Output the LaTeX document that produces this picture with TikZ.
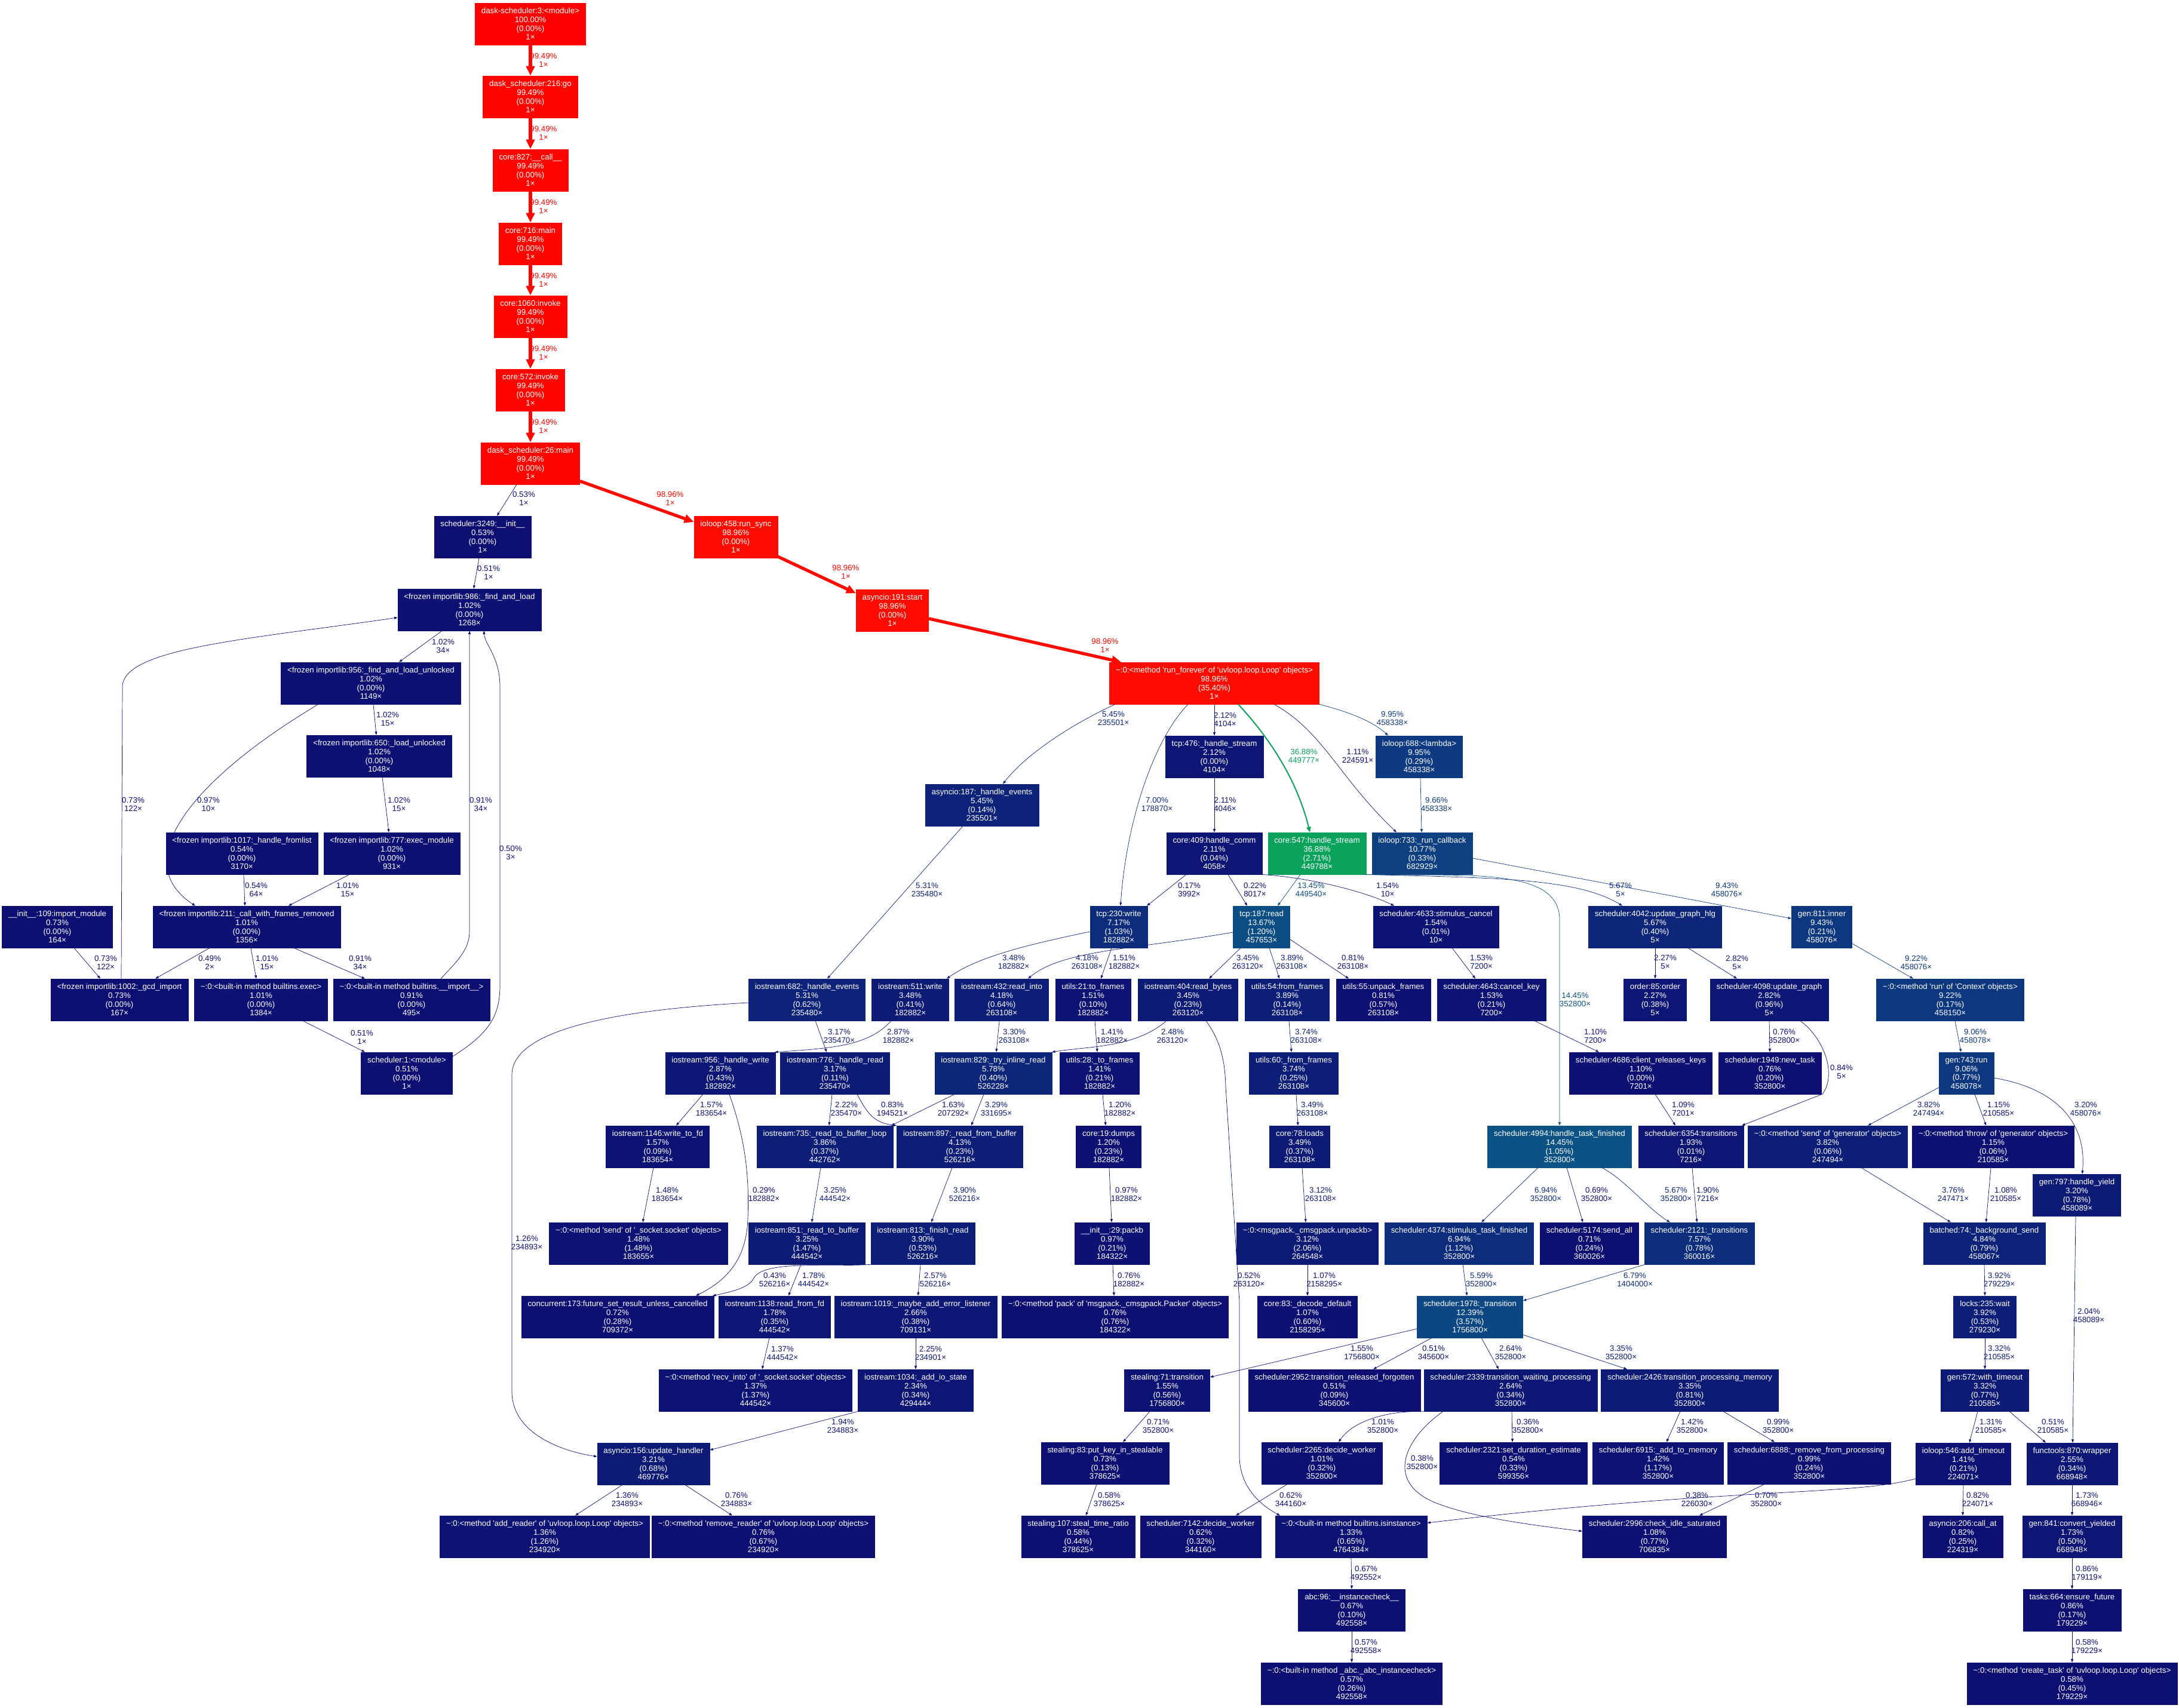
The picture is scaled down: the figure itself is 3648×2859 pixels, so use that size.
\documentclass[tikz,border=0pt]{standalone}
\usepackage{fontspec}
\setmainfont{Liberation Sans}[Ligatures=TeXOff]
\usetikzlibrary{arrows.meta}
\definecolor{cR0}{RGB}{255,0,0}
\definecolor{cR1}{RGB}{255,5,0}
\definecolor{cR2}{RGB}{254,11,0}
\definecolor{cG}{RGB}{11,163,91}
\definecolor{cN0}{RGB}{13,15,115}
\definecolor{cN1}{RGB}{13,17,116}
\definecolor{cN15}{RGB}{13,19,116}
\definecolor{cN2}{RGB}{13,21,117}
\definecolor{cN25}{RGB}{13,24,118}
\definecolor{cN3}{RGB}{13,27,119}
\definecolor{cN4}{RGB}{13,30,120}
\definecolor{cN5}{RGB}{13,35,122}
\definecolor{cN6}{RGB}{13,38,122}
\definecolor{cN7}{RGB}{13,44,124}
\definecolor{cN75}{RGB}{13,46,125}
\definecolor{cN9}{RGB}{13,55,127}
\definecolor{cN10}{RGB}{13,58,128}
\definecolor{cN11}{RGB}{13,63,129}
\definecolor{cN12}{RGB}{12,71,131}
\definecolor{cN13}{RGB}{12,77,132}
\definecolor{cN14}{RGB}{12,82,133}
\newcommand\gfont{\fontsize{13.3}{14.6}\selectfont}
\newcommand\gbox[8]{\node[gb=#4] (#1) at (#2,#3) {#5\\#6\%\\(#7\%)\\#8×};}
\newcommand\glab[6]{\node[gl=#4] (#1) at (#2,#3) {#5\%\\#6×};}
\tikzset{
  gb/.style={rectangle, fill=#1, draw=#1, line width=0.6pt, text=white, align=center,
    minimum height=70pt, inner xsep=10.5pt, inner ysep=2pt, font=\gfont},
  gl/.style={text=#1, align=center, inner sep=0pt, font=\gfont},
  ge/.style={draw=#1, line width=0.7pt, -{Triangle[length=5.5pt,width=4pt]}},
  gg/.style={draw=#1, line width=2pt, -{Triangle[length=9pt,width=7.5pt]}},
  gr/.style={draw=#1, line width=5.3pt, -{Triangle[length=16pt,width=14pt]}},
}
\begin{document}
\begin{tikzpicture}[x=1pt,y=-1pt]
\fill[white] (0,0) rectangle (3648,2859);
\useasboundingbox (0,0) rectangle (3648,2859);
% ---------- nodes: top chain ----------
\gbox{n1}{888}{40}{cR0}{dask-scheduler:3:<module>}{100.00}{0.00}{1}
\gbox{n2}{888}{162}{cR1}{dask\_scheduler:216:go}{99.49}{0.00}{1}
\gbox{n3}{888}{285}{cR1}{core:827:\_\_call\_\_}{99.49}{0.00}{1}
\gbox{n4}{888}{408}{cR1}{core:716:main}{99.49}{0.00}{1}
\gbox{n5}{888}{530}{cR1}{core:1060:invoke}{99.49}{0.00}{1}
\gbox{n6}{888}{653}{cR1}{core:572:invoke}{99.49}{0.00}{1}
\gbox{n7}{888}{776}{cR1}{dask\_scheduler:26:main}{99.49}{0.00}{1}
\gbox{n8}{808}{899}{cN0}{scheduler:3249:\_\_init\_\_}{0.53}{0.00}{1}
\gbox{n9}{1232}{899}{cR2}{ioloop:458:run\_sync}{98.96}{0.00}{1}
\gbox{n10}{1494}{1022}{cR2}{asyncio:191:start}{98.96}{0.00}{1}
\gbox{n11}{2033}{1144}{cR2}{\textasciitilde:0:<method 'run\_forever' of 'uvloop.loop.Loop' objects>}{98.96}{35.40}{1}
% ---------- left cluster ----------
\gbox{fal}{786}{1021}{cN1}{<frozen importlib:986:\_find\_and\_load}{1.02}{0.00}{1268}
\gbox{fu}{621}{1144}{cN1}{<frozen importlib:956:\_find\_and\_load\_unlocked}{1.02}{0.00}{1149}
\gbox{lu}{635}{1266}{cN1}{<frozen importlib:650:\_load\_unlocked}{1.02}{0.00}{1048}
\gbox{hf}{405}{1429}{cN0}{<frozen importlib:1017:\_handle\_fromlist}{0.54}{0.00}{3170}
\gbox{em}{656}{1429}{cN1}{<frozen importlib:777:exec\_module}{1.02}{0.00}{931}
\gbox{cw}{413}{1552}{cN1}{<frozen importlib:211:\_call\_with\_frames\_removed}{1.01}{0.00}{1356}
\gbox{im}{96}{1552}{cN0}{\_\_init\_\_:109:import\_module}{0.73}{0.00}{164}
\gbox{gi}{200}{1674}{cN0}{<frozen importlib:1002:\_gcd\_import}{0.73}{0.00}{167}
\gbox{bx}{437}{1674}{cN1}{\textasciitilde:0:<built-in method builtins.exec>}{1.01}{0.00}{1384}
\gbox{bi}{689}{1674}{cN0}{\textasciitilde:0:<built-in method builtins.\_\_import\_\_>}{0.91}{0.00}{495}
\gbox{sm}{681}{1797}{cN0}{scheduler:1:<module>}{0.51}{0.00}{1}
% ---------- main ----------
\gbox{ae}{1644}{1348}{cN5}{asyncio:187:\_handle\_events}{5.45}{0.14}{235501}
\gbox{t476}{2033}{1267}{cN2}{tcp:476:\_handle\_stream}{2.12}{0.00}{4104}
\gbox{il688}{2376}{1267}{cN10}{ioloop:688:<lambda>}{9.95}{0.29}{458338}
\gbox{c409}{2033}{1429}{cN2}{core:409:handle\_comm}{2.11}{0.04}{4058}
\gbox{c547}{2205}{1429}{cG}{core:547:handle\_stream}{36.88}{2.71}{449788}
\gbox{il733}{2381}{1429}{cN11}{ioloop:733:\_run\_callback}{10.77}{0.33}{682929}
\gbox{t230}{1873}{1552}{cN7}{tcp:230:write}{7.17}{1.03}{182882}
\gbox{t187}{2112}{1552}{cN13}{tcp:187:read}{13.67}{1.20}{457653}
\gbox{s4633}{2404}{1552}{cN15}{scheduler:4633:stimulus\_cancel}{1.54}{0.01}{10}
\gbox{s4042}{2771}{1552}{cN6}{scheduler:4042:update\_graph\_hlg}{5.67}{0.40}{5}
\gbox{g811}{3050}{1552}{cN9}{gen:811:inner}{9.43}{0.21}{458076}
\gbox{i682}{1351}{1674}{cN5}{iostream:682:\_handle\_events}{5.31}{0.62}{235480}
\gbox{i511}{1524}{1674}{cN3}{iostream:511:write}{3.48}{0.41}{182882}
\gbox{i432}{1677}{1674}{cN4}{iostream:432:read\_into}{4.18}{0.64}{263108}
\gbox{u21}{1830}{1674}{cN15}{utils:21:to\_frames}{1.51}{0.10}{182882}
\gbox{i404}{1989}{1674}{cN3}{iostream:404:read\_bytes}{3.45}{0.23}{263120}
\gbox{u54}{2155}{1674}{cN4}{utils:54:from\_frames}{3.89}{0.14}{263108}
\gbox{u55}{2316}{1674}{cN0}{utils:55:unpack\_frames}{0.81}{0.57}{263108}
\gbox{s4643}{2497}{1674}{cN15}{scheduler:4643:cancel\_key}{1.53}{0.21}{7200}
\gbox{o85}{2771}{1674}{cN2}{order:85:order}{2.27}{0.38}{5}
\gbox{s4098}{2962}{1674}{cN25}{scheduler:4098:update\_graph}{2.82}{0.96}{5}
\gbox{ctx}{3265}{1674}{cN9}{\textasciitilde:0:<method 'run' of 'Context' objects>}{9.22}{0.17}{458150}
\gbox{i956}{1206}{1797}{cN25}{iostream:956:\_handle\_write}{2.87}{0.43}{182892}
\gbox{i776}{1398}{1797}{cN3}{iostream:776:\_handle\_read}{3.17}{0.11}{235470}
\gbox{i829}{1663}{1797}{cN6}{iostream:829:\_try\_inline\_read}{5.78}{0.40}{526228}
\gbox{u28}{1841}{1797}{cN15}{utils:28:\_to\_frames}{1.41}{0.21}{182882}
\gbox{u60}{2166}{1797}{cN4}{utils:60:\_from\_frames}{3.74}{0.25}{263108}
\gbox{s4686}{2747}{1797}{cN1}{scheduler:4686:client\_releases\_keys}{1.10}{0.00}{7201}
\gbox{s1949}{2963}{1797}{cN0}{scheduler:1949:new\_task}{0.76}{0.20}{352800}
\gbox{g743}{3292}{1797}{cN9}{gen:743:run}{9.06}{0.77}{458078}
\gbox{i1146}{1101}{1920}{cN15}{iostream:1146:write\_to\_fd}{1.57}{0.09}{183654}
\gbox{i735}{1381}{1920}{cN4}{iostream:735:\_read\_to\_buffer\_loop}{3.86}{0.37}{442762}
\gbox{i897}{1607}{1920}{cN4}{iostream:897:\_read\_from\_buffer}{4.13}{0.23}{526216}
\gbox{c19}{1856}{1920}{cN1}{core:19:dumps}{1.20}{0.23}{182882}
\gbox{c78}{2176}{1920}{cN3}{core:78:loads}{3.49}{0.37}{263108}
\gbox{s4994}{2611}{1920}{cN14}{scheduler:4994:handle\_task\_finished}{14.45}{1.05}{352800}
\gbox{s6354}{2831}{1920}{cN2}{scheduler:6354:transitions}{1.93}{0.01}{7216}
\gbox{gsend}{3060}{1920}{cN4}{\textasciitilde:0:<method 'send' of 'generator' objects>}{3.82}{0.06}{247494}
\gbox{gthrow}{3337}{1920}{cN1}{\textasciitilde:0:<method 'throw' of 'generator' objects>}{1.15}{0.06}{210585}
\gbox{g797}{3477}{2001}{cN3}{gen:797:handle\_yield}{3.20}{0.78}{458089}
\gbox{ssend}{1069}{2082}{cN15}{\textasciitilde:0:<method 'send' of '\_socket.socket' objects>}{1.48}{1.48}{183655}
\gbox{i851}{1351}{2082}{cN3}{iostream:851:\_read\_to\_buffer}{3.25}{1.47}{444542}
\gbox{i813}{1545}{2082}{cN4}{iostream:813:\_finish\_read}{3.90}{0.53}{526216}
\gbox{pb}{1862}{2082}{cN1}{\_\_init\_\_:29:packb}{0.97}{0.21}{184322}
\gbox{upk}{2189}{2082}{cN3}{\textasciitilde:0:<msgpack.\_cmsgpack.unpackb>}{3.12}{2.06}{264548}
\gbox{s4374}{2443}{2082}{cN7}{scheduler:4374:stimulus\_task\_finished}{6.94}{1.12}{352800}
\gbox{s5174}{2661}{2082}{cN0}{scheduler:5174:send\_all}{0.71}{0.24}{360026}
\gbox{s2121}{2845}{2082}{cN75}{scheduler:2121:\_transitions}{7.57}{0.78}{360016}
\gbox{bat}{3322}{2082}{cN5}{batched:74:\_background\_send}{4.84}{0.79}{458067}
\gbox{cc173}{1034}{2205}{cN0}{concurrent:173:future\_set\_result\_unless\_cancelled}{0.72}{0.28}{709372}
\gbox{i1138}{1297}{2205}{cN2}{iostream:1138:read\_from\_fd}{1.78}{0.35}{444542}
\gbox{i1019}{1533}{2205}{cN25}{iostream:1019:\_maybe\_add\_error\_listener}{2.66}{0.38}{709131}
\gbox{pk}{1867}{2205}{cN0}{\textasciitilde:0:<method 'pack' of 'msgpack.\_cmsgpack.Packer' objects>}{0.76}{0.76}{184322}
\gbox{c83}{2189}{2205}{cN1}{core:83:\_decode\_default}{1.07}{0.60}{2158295}
\gbox{s1978}{2461}{2205}{cN12}{scheduler:1978:\_transition}{12.39}{3.57}{1756800}
\gbox{lk}{3323}{2205}{cN4}{locks:235:wait}{3.92}{0.53}{279230}
\gbox{rcv}{1265}{2328}{cN15}{\textasciitilde:0:<method 'recv\_into' of '\_socket.socket' objects>}{1.37}{1.37}{444542}
\gbox{i1034}{1533}{2328}{cN2}{iostream:1034:\_add\_io\_state}{2.34}{0.34}{429444}
\gbox{st71}{1954}{2328}{cN15}{stealing:71:transition}{1.55}{0.56}{1756800}
\gbox{s2952}{2234}{2328}{cN0}{scheduler:2952:transition\_released\_forgotten}{0.51}{0.09}{345600}
\gbox{s2339}{2529}{2328}{cN25}{scheduler:2339:transition\_waiting\_processing}{2.64}{0.34}{352800}
\gbox{s2426}{2829}{2328}{cN3}{scheduler:2426:transition\_processing\_memory}{3.35}{0.81}{352800}
\gbox{g572}{3323}{2328}{cN3}{gen:572:with\_timeout}{3.32}{0.77}{210585}
\gbox{a156}{1094}{2451}{cN3}{asyncio:156:update\_handler}{3.21}{0.68}{469776}
\gbox{st83}{1850}{2450}{cN0}{stealing:83:put\_key\_in\_stealable}{0.73}{0.13}{378625}
\gbox{s2265}{2213}{2450}{cN1}{scheduler:2265:decide\_worker}{1.01}{0.32}{352800}
\gbox{s2321}{2534}{2450}{cN0}{scheduler:2321:set\_duration\_estimate}{0.54}{0.33}{599356}
\gbox{s6915}{2776}{2450}{cN15}{scheduler:6915:\_add\_to\_memory}{1.42}{1.17}{352800}
\gbox{s6888}{3029}{2450}{cN1}{scheduler:6888:\_remove\_from\_processing}{0.99}{0.24}{352800}
\gbox{il546}{3287}{2451}{cN15}{ioloop:546:add\_timeout}{1.41}{0.21}{224071}
\gbox{ft870}{3469}{2451}{cN25}{functools:870:wrapper}{2.55}{0.34}{668948}
\gbox{adr}{912}{2573}{cN15}{\textasciitilde:0:<method 'add\_reader' of 'uvloop.loop.Loop' objects>}{1.36}{1.26}{234920}
\gbox{rmr}{1278}{2573}{cN0}{\textasciitilde:0:<method 'remove\_reader' of 'uvloop.loop.Loop' objects>}{0.76}{0.67}{234920}
\gbox{st107}{1805}{2573}{cN0}{stealing:107:steal\_time\_ratio}{0.58}{0.44}{378625}
\gbox{s7142}{2010}{2573}{cN0}{scheduler:7142:decide\_worker}{0.62}{0.32}{344160}
\gbox{isi}{2262}{2573}{cN15}{\textasciitilde:0:<built-in method builtins.isinstance>}{1.33}{0.65}{4764384}
\gbox{s2996}{2770}{2573}{cN1}{scheduler:2996:check\_idle\_saturated}{1.08}{0.77}{706835}
\gbox{a206}{3286}{2573}{cN0}{asyncio:206:call\_at}{0.82}{0.25}{224319}
\gbox{g841}{3469}{2573}{cN2}{gen:841:convert\_yielded}{1.73}{0.50}{668948}
\gbox{abc96}{2263}{2696}{cN0}{abc:96:\_\_instancecheck\_\_}{0.67}{0.10}{492558}
\gbox{tk664}{3469}{2696}{cN0}{tasks:664:ensure\_future}{0.86}{0.17}{179229}
\gbox{abci}{2263}{2819}{cN0}{\textasciitilde:0:<built-in method \_abc.\_abc\_instancecheck>}{0.57}{0.26}{492558}
\gbox{ctk}{3469}{2819}{cN0}{\textasciitilde:0:<method 'create\_task' of 'uvloop.loop.Loop' objects>}{0.58}{0.45}{179229}
% ---------- edges: chain ----------
\draw[gr=cR1] (n1) -- (n2);
\draw[gr=cR1] (n2) -- (n3);
\draw[gr=cR1] (n3) -- (n4);
\draw[gr=cR1] (n4) -- (n5);
\draw[gr=cR1] (n5) -- (n6);
\draw[gr=cR1] (n6) -- (n7);
\draw[ge=cN0] ([xshift=-23pt]n7.south) -- ([xshift=24pt]n8.north);
\draw[gr=cR2] (n7) -- (n9);
\draw[gr=cR2] (n9) -- (n10);
\draw[gr=cR2] (n10) -- (n11);
% ---------- edges: left cluster ----------
\draw[ge=cN0] ([xshift=-6pt]n8.south) -- ([xshift=7pt]fal.north);
\draw[ge=cN1] ([xshift=-46pt]fal.south) -- ([xshift=47pt]fu.north);
\draw[ge=cN1] ([xshift=4pt]fu.south) -- ([xshift=-5pt]lu.north);
\draw[ge=cN1] ([xshift=-88pt]fu.south) .. controls (330,1300) and (210,1440) .. ([xshift=-86pt]cw.north);
\draw[ge=cN1] ([xshift=5pt]lu.south) -- ([xshift=-5pt]em.north);
\draw[ge=cN1] ([xshift=-71pt]em.south) -- ([xshift=70pt]cw.north);
\draw[ge=cN0] ([xshift=3pt]hf.south) -- ([xshift=-3pt]cw.north);
\draw[ge=cN0] ([xshift=-62pt]cw.south) -- ([xshift=60pt]gi.north);
\draw[ge=cN1] ([xshift=7pt]cw.south) -- ([xshift=-8pt]bx.north);
\draw[ge=cN0] ([xshift=79pt]cw.south) -- ([xshift=-78pt]bi.north);
\draw[ge=cN0] ([xshift=28pt]im.south) -- ([xshift=-32pt]gi.north);
\draw[ge=cN0] ([xshift=3pt]gi.north) -- (205,1150) .. controls (205,1085) and (420,1070) .. ([yshift=-13pt]fal.west);
\draw[ge=cN0] ([xshift=49pt]bi.north) .. controls (765,1610) and (786,1590) .. (786,1560) -- (fal.south);
\draw[ge=cN0] ([xshift=70pt]bx.south) -- ([xshift=-70pt]sm.north);
\draw[ge=cN0] ([yshift=28pt]sm.east) .. controls (820,1730) and (837,1700) .. (837,1650) -- (837,1150) .. controls (837,1100) and (812,1080) .. ([xshift=24pt]fal.south);
% ---------- edges: main ----------
\draw[ge=cN5] ([xshift=-166pt]n11.south) .. controls (1800,1210) and (1720,1260) .. ([xshift=35pt]ae.north);
\draw[ge=cN7] ([xshift=-44pt]n11.south) .. controls (1930,1240) and (1885,1380) .. ([xshift=3pt]t230.north);
\draw[ge=cN2] (n11.south) -- (t476.north);
\draw[gg=cG] ([xshift=40pt]n11.south) .. controls (2120,1230) and (2170,1300) .. ([xshift=-12pt]c547.north);
\draw[ge=cN1] ([xshift=100pt]n11.south) .. controls (2215,1225) and (2240,1300) .. ([xshift=-43pt]il733.north);
\draw[ge=cN10] (n11.south east) .. controls (2250,1190) and (2295,1205) .. ([xshift=-52pt]il688.north);
\draw[ge=cN2] (t476.south) -- (c409.north);
\draw[ge=cN10] ([xshift=2pt]il688.south) -- ([xshift=-1pt]il733.north);
\draw[ge=cN0] ([xshift=-47pt]c409.south) -- ([xshift=47pt]t230.north);
\draw[ge=cN0] ([xshift=23pt]c409.south) -- ([xshift=-24pt]t187.north);
\draw[ge=cN13] ([xshift=-28pt]c547.south) -- ([xshift=27pt]t187.north);
\draw[ge=cN15] ([xshift=79pt]c409.south) .. controls (2200,1470) and (2290,1495) .. ([xshift=-70pt]s4633.north);
\draw[ge=cN6] ([xshift=82pt]c547.south) .. controls (2500,1470) and (2640,1470) .. ([xshift=-55pt]s4042.north);
\draw[ge=cN14] ([xshift=78pt]c547.south) .. controls (2450,1468) and (2611,1450) .. (2611,1540) -- (s4994.north);
\draw[ge=cN9] ([yshift=-8pt]il733.east) -- ([yshift=14pt]g811.west);
\draw[ge=cN3] ([xshift=-35pt]t187.south) -- ([xshift=35pt]i404.north);
\draw[ge=cN4] ([xshift=13pt]t187.south) -- ([xshift=-13pt]u54.north);
\draw[ge=cN0] ([yshift=-21pt]t187.east) -- ([xshift=-58pt]u55.north);
\draw[ge=cN4] ([yshift=-9pt]t187.west) .. controls (1900,1590) and (1780,1590) .. ([xshift=44pt]i432.north);
\draw[ge=cN3] ([yshift=-8pt]t230.west) .. controls (1730,1580) and (1640,1600) .. ([xshift=61pt]i511.north);
\draw[ge=cN15] ([xshift=-12pt]t230.south) -- ([xshift=13pt]u21.north);
\draw[ge=cN5] ([xshift=-32pt]ae.south) -- ([xshift=34pt]i682.north);
\draw[ge=cN15] ([xshift=27pt]s4633.south) -- ([xshift=-27pt]s4643.north);
\draw[ge=cN2] (s4042.south) -- (o85.north);
\draw[ge=cN25] ([xshift=55pt]s4042.south) -- ([xshift=-54pt]s4098.north);
\draw[ge=cN9] ([yshift=-28pt]g811.east) -- ([xshift=-62pt]ctx.north);
\draw[ge=cN3] ([xshift=14pt]i682.south) -- ([xshift=-14pt]i776.north);
\draw[ge=cN25] ([xshift=-32pt]i511.south) .. controls (1455,1750) and (1400,1755) .. ([xshift=91pt]i956.north);
\draw[ge=cN3] ([xshift=-4pt]i432.south) -- ([xshift=5pt]i829.north);
\draw[ge=cN15] ([xshift=3pt]u21.south) -- ([xshift=-4pt]u28.north);
\draw[ge=cN25] ([xshift=-36pt]i404.south) .. controls (1900,1755) and (1820,1752) .. ([xshift=98pt]i829.north);
\draw[ge=cN4] ([xshift=3pt]u54.south) -- ([xshift=-4pt]u60.north);
\draw[ge=cN0] ([xshift=30pt]i404.south) .. controls (2045,1745) and (2051,1780) .. (2052,1820) -- (2075,2180) -- (2075,2440) .. controls (2076,2490) and (2110,2520) .. ([xshift=-119pt]isi.north);
\draw[ge=cN1] ([xshift=72pt]s4643.south) -- ([xshift=-70pt]s4686.north);
\draw[ge=cN0] (s4098.south) -- (s1949.north);
\draw[ge=cN0] ([xshift=52pt]s4098.south) .. controls (3055,1740) and (3075,1800) .. (3051,1832) -- ([xshift=85pt]s6354.north);
\draw[ge=cN9] ([xshift=8pt]ctx.south) -- ([xshift=-9pt]g743.north);
\draw[ge=cN15] ([xshift=-29pt]i956.south) -- ([xshift=31pt]i1146.north);
\draw[ge=cN0] ([xshift=15pt]i956.south) .. controls (1245,1900) and (1255,1960) .. (1252,2040) .. controls (1250,2110) and (1215,2145) .. ([xshift=131pt]cc173.north);
\draw[ge=cN2] ([xshift=-5pt]i776.south) -- ([xshift=7pt]i735.north);
\draw[ge=cN0] ([xshift=37pt]i776.south) .. controls (1450,1860) and (1460,1880) .. ([xshift=-106pt]i897.north);
\draw[ge=cN15] ([xshift=-65pt]i829.south) -- ([xshift=111pt]i735.north);
\draw[ge=cN3] ([xshift=-16pt]i829.south) -- ([xshift=19pt]i897.north);
\draw[ge=cN1] ([xshift=5pt]u28.south) -- ([xshift=-5pt]c19.north);
\draw[ge=cN3] ([xshift=4pt]u60.south) -- ([xshift=-3pt]c78.north);
\draw[ge=cN1] ([xshift=24pt]s4686.south) -- ([xshift=-26pt]s6354.north);
\draw[ge=cN4] ([yshift=-24pt]g743.west) -- ([xshift=67pt]gsend.north);
\draw[ge=cN1] ([xshift=14pt]g743.south) -- ([xshift=-12pt]gthrow.north);
\draw[ge=cN3] ([yshift=-8pt]g743.east) .. controls (3430,1820) and (3495,1870) .. ([xshift=9pt]g797.north);
\draw[ge=cN15] ([xshift=-7pt]i1146.south) -- ([xshift=7pt]ssend.north);
\draw[ge=cN3] ([xshift=-7pt]i735.south) -- ([xshift=8pt]i851.north);
\draw[ge=cN4] ([xshift=-13pt]i897.south) -- ([xshift=14pt]i813.north);
\draw[ge=cN1] ([xshift=1pt]c19.south) -- ([xshift=-1pt]pb.north);
\draw[ge=cN3] ([xshift=4pt]c78.south) -- ([xshift=-3pt]upk.north);
\draw[ge=cN7] ([xshift=-36pt]s4994.south) -- ([xshift=37pt]s4374.north);
\draw[ge=cN0] ([xshift=12pt]s4994.south) -- ([xshift=-11pt]s5174.north);
\draw[ge=cN6] ([xshift=71pt]s4994.south) .. controls (2720,1975) and (2760,2025) .. ([xshift=-49pt]s2121.north);
\draw[ge=cN2] ([xshift=2pt]s6354.south) -- ([xshift=-4pt]s2121.north);
\draw[ge=cN4] ([xshift=56pt]gsend.south) -- ([xshift=-56pt]bat.north);
\draw[ge=cN1] ([xshift=-4pt]gthrow.south) -- ([xshift=3pt]bat.north);
\draw[ge=cN2] ([xshift=-2pt]g797.south) -- ([xshift=1pt]ft870.north);
\draw[ge=cN2] ([xshift=-10pt]i851.south) -- ([xshift=23pt]i1138.north);
\draw[ge=cN0] (i813.south west) .. controls (1380,2122) and (1280,2110) .. (1262,2140) .. controls (1255,2155) and (1230,2162) .. ([xshift=159pt]cc173.north);
\draw[ge=cN25] ([xshift=-4pt]i813.south) -- ([xshift=4pt]i1019.north);
\draw[ge=cN0] ([xshift=1pt]pb.south) -- ([xshift=-2pt]pk.north);
\draw[ge=cN1] (upk.south) -- (c83.north);
\draw[ge=cN6] ([xshift=6pt]s4374.south) -- ([xshift=-5pt]s1978.north);
\draw[ge=cN7] ([xshift=-91pt]s2121.south) -- ([yshift=27pt]s1978.east);
\draw[ge=cN4] (bat.south) -- (lk.north);
\draw[ge=cN15] ([xshift=-9pt]i1138.south) -- ([xshift=11pt]rcv.north);
\draw[ge=cN2] (i1019.south) -- (i1034.north);
\draw[ge=cN15] ([yshift=-20pt]s1978.west) -- ([yshift=22pt]st71.east);
\draw[ge=cN0] ([xshift=-64pt]s1978.south) -- ([xshift=65pt]s2952.north);
\draw[ge=cN25] ([xshift=19pt]s1978.south) -- ([xshift=-20pt]s2339.north);
\draw[ge=cN3] ([yshift=-30pt]s1978.east) -- ([xshift=-105pt]s2426.north);
\draw[ge=cN3] (lk.south) -- (g572.north);
\draw[ge=cN2] (i1034.south west) -- ([yshift=23pt]a156.east);
\draw[ge=cN0] ([xshift=-29pt]st71.south) -- ([xshift=30pt]st83.north);
\draw[ge=cN1] (s2339.south west) .. controls (2320,2362) and (2265,2380) .. ([xshift=28pt]s2265.north);
\draw[ge=cN0] ([xshift=2pt]s2339.south) -- ([xshift=-2pt]s2321.north);
\draw[ge=cN0] ([xshift=-113pt]s2339.south) .. controls (2350,2410) and (2320,2480) .. (2400,2515) .. controls (2460,2540) and (2560,2553) .. ([yshift=9pt]s2996.west);
\draw[ge=cN15] ([xshift=-16pt]s2426.south) -- ([xshift=14pt]s6915.north);
\draw[ge=cN1] ([xshift=56pt]s2426.south) -- ([xshift=-58pt]s6888.north);
\draw[ge=cN15] ([xshift=-12pt]g572.south) -- ([xshift=10pt]il546.north);
\draw[ge=cN0] ([xshift=41pt]g572.south) -- ([xshift=-44pt]ft870.north);
\draw[ge=cN15] ([xshift=-52pt]a156.south) -- ([xshift=51pt]adr.north);
\draw[ge=cN0] ([xshift=53pt]a156.south) -- ([xshift=-52pt]rmr.north);
\draw[ge=cN0] ([xshift=-14pt]st83.south) -- ([xshift=13pt]st107.north);
\draw[ge=cN0] ([xshift=-58pt]s2265.south) -- ([xshift=59pt]s7142.north);
\draw[ge=cN0] ([xshift=-75pt]s6888.south) -- ([xshift=75pt]s2996.north);
\draw[ge=cN0] ([yshift=-25pt]il546.west) .. controls (3100,2505) and (2900,2490) .. ([yshift=23pt]isi.east);
\draw[ge=cN0] (il546.south) -- (a206.north);
\draw[ge=cN2] (ft870.south) -- (g841.north);
\draw[ge=cN15] ([yshift=-5pt]i682.west) .. controls (1050,1690) and (857,1720) .. (857,1800) -- (857,2330) .. controls (857,2400) and (940,2430) .. ([yshift=12pt]a156.west);
\draw[ge=cN0] (isi.south) -- (abc96.north);
\draw[ge=cN0] (abc96.south) -- (abci.north);
\draw[ge=cN0] (g841.south) -- (tk664.north);
\draw[ge=cN0] (tk664.south) -- (ctk.north);
% ---------- labels ----------
\glab{l1}{910}{101}{cR1}{99.49}{1}
\glab{l2}{910}{223}{cR1}{99.49}{1}
\glab{l3}{910}{346}{cR1}{99.49}{1}
\glab{l4}{910}{469}{cR1}{99.49}{1}
\glab{l5}{910}{591}{cR1}{99.49}{1}
\glab{l6}{910}{714}{cR1}{99.49}{1}
\glab{l7}{877}{835}{cN0}{0.53}{1}
\glab{l8}{1122}{835}{cR2}{98.96}{1}
\glab{l9}{1416}{958}{cR2}{98.96}{1}
\glab{l10}{1850}{1081}{cR2}{98.96}{1}
\glab{l11}{818}{959}{cN0}{0.51}{1}
\glab{l12}{742}{1082}{cN1}{1.02}{34}
\glab{l13}{649}{1204}{cN1}{1.02}{15}
\glab{l14}{349}{1347}{cN1}{0.97}{10}
\glab{l15}{668}{1347}{cN1}{1.02}{15}
\glab{l16}{223}{1347}{cN0}{0.73}{122}
\glab{l17}{805}{1347}{cN0}{0.91}{34}
\glab{l18}{855}{1428}{cN0}{0.50}{3}
\glab{l19}{582}{1490}{cN1}{1.01}{15}
\glab{l20}{429}{1490}{cN0}{0.54}{64}
\glab{l21}{351}{1612}{cN0}{0.49}{2}
\glab{l22}{447}{1612}{cN1}{1.01}{15}
\glab{l23}{603}{1612}{cN0}{0.91}{34}
\glab{l24}{177}{1612}{cN0}{0.73}{122}
\glab{l25}{606}{1737}{cN0}{0.51}{1}
\glab{m1}{1864}{1203}{cN5}{5.45}{235501}
\glab{m2}{1937}{1347}{cN7}{7.00}{178870}
\glab{m3}{2051}{1205}{cN2}{2.12}{4104}
\glab{m4}{2183}{1266}{cG}{36.88}{449777}
\glab{m5}{2273}{1266}{cN1}{1.11}{224591}
\glab{m6}{2331}{1203}{cN10}{9.95}{458338}
\glab{m7}{2051}{1347}{cN2}{2.11}{4046}
\glab{m8}{2405}{1347}{cN10}{9.66}{458338}
\glab{m9}{1991}{1490}{cN0}{0.17}{3992}
\glab{m10}{2101}{1490}{cN0}{0.22}{8017}
\glab{m11}{2195}{1490}{cN13}{13.45}{449540}
\glab{m12}{2323}{1490}{cN15}{1.54}{10}
\glab{m13}{2713}{1490}{cN6}{5.67}{5}
\glab{m14}{2637}{1674}{cN14}{14.45}{352800}
\glab{m15}{2891}{1490}{cN9}{9.43}{458076}
\glab{m16}{2089}{1611}{cN3}{3.45}{263120}
\glab{m17}{2163}{1611}{cN4}{3.89}{263108}
\glab{m18}{2265}{1611}{cN0}{0.81}{263108}
\glab{m19}{1820}{1611}{cN4}{4.18}{263108}
\glab{m20}{1697}{1611}{cN3}{3.48}{182882}
\glab{m21}{1882}{1611}{cN15}{1.51}{182882}
\glab{m22}{1552}{1490}{cN5}{5.31}{235480}
\glab{m23}{2480}{1611}{cN15}{1.53}{7200}
\glab{m24}{2788}{1611}{cN2}{2.27}{5}
\glab{m25}{2908}{1612}{cN25}{2.82}{5}
\glab{m26}{3208}{1612}{cN9}{9.22}{458076}
\glab{m27}{1405}{1735}{cN3}{3.17}{235470}
\glab{m28}{1504}{1735}{cN25}{2.87}{182882}
\glab{m29}{1698}{1735}{cN3}{3.30}{263108}
\glab{m30}{1862}{1735}{cN15}{1.41}{182882}
\glab{m31}{1963}{1735}{cN25}{2.48}{263120}
\glab{m32}{2187}{1735}{cN4}{3.74}{263108}
\glab{m33}{2091}{2143}{cN0}{0.52}{263120}
\glab{m34}{2671}{1735}{cN1}{1.10}{7200}
\glab{m35}{2987}{1735}{cN0}{0.76}{352800}
\glab{m36}{3083}{1795}{cN0}{0.84}{5}
\glab{m37}{3307}{1735}{cN9}{9.06}{458078}
\glab{m38}{1191}{1857}{cN15}{1.57}{183654}
\glab{m39}{1279}{2000}{cN0}{0.29}{182882}
\glab{m40}{1417}{1857}{cN2}{2.22}{235470}
\glab{m41}{1494}{1857}{cN0}{0.83}{194521}
\glab{m42}{1596}{1857}{cN15}{1.63}{207292}
\glab{m43}{1668}{1857}{cN3}{3.29}{331695}
\glab{m44}{1875}{1857}{cN1}{1.20}{182882}
\glab{m45}{2197}{1857}{cN3}{3.49}{263108}
\glab{m46}{2818}{1857}{cN1}{1.09}{7201}
\glab{m47}{3229}{1857}{cN4}{3.82}{247494}
\glab{m48}{3346}{1857}{cN1}{1.15}{210585}
\glab{m49}{3492}{1857}{cN3}{3.20}{458076}
\glab{m50}{1117}{2000}{cN15}{1.48}{183654}
\glab{m51}{1398}{2000}{cN3}{3.25}{444542}
\glab{m52}{1615}{2000}{cN4}{3.90}{526216}
\glab{m53}{1886}{2000}{cN1}{0.97}{182882}
\glab{m54}{2211}{2000}{cN3}{3.12}{263108}
\glab{m55}{2588}{2000}{cN7}{6.94}{352800}
\glab{m56}{2673}{2000}{cN0}{0.69}{352800}
\glab{m57}{2806}{2000}{cN6}{5.67}{352800}
\glab{m58}{2859}{2000}{cN2}{1.90}{7216}
\glab{m59}{3270}{2000}{cN4}{3.76}{247471}
\glab{m60}{3358}{2000}{cN1}{1.08}{210585}
\glab{m61}{3497}{2203}{cN2}{2.04}{458089}
\glab{m62}{1362}{2143}{cN2}{1.78}{444542}
\glab{m63}{1297}{2143}{cN0}{0.43}{526216}
\glab{m64}{1566}{2143}{cN25}{2.57}{526216}
\glab{m65}{1890}{2143}{cN0}{0.76}{182882}
\glab{m66}{2217}{2143}{cN1}{1.07}{2158295}
\glab{m67}{2480}{2143}{cN6}{5.59}{352800}
\glab{m68}{2737}{2143}{cN7}{6.79}{1404000}
\glab{m69}{3347}{2143}{cN4}{3.92}{279229}
\glab{m70}{1310}{2266}{cN15}{1.37}{444542}
\glab{m71}{1558}{2266}{cN2}{2.25}{234901}
\glab{m72}{2280}{2265}{cN15}{1.55}{1756800}
\glab{m73}{2400}{2265}{cN0}{0.51}{345600}
\glab{m74}{2529}{2265}{cN25}{2.64}{352800}
\glab{m75}{2714}{2265}{cN3}{3.35}{352800}
\glab{m76}{3347}{2265}{cN3}{3.32}{210585}
\glab{m77}{1411}{2388}{cN2}{1.94}{234883}
\glab{m78}{1939}{2388}{cN0}{0.71}{352800}
\glab{m79}{2315}{2388}{cN1}{1.01}{352800}
\glab{m80}{2558}{2388}{cN0}{0.36}{352800}
\glab{m81}{2381}{2449}{cN0}{0.38}{352800}
\glab{m82}{2833}{2388}{cN15}{1.42}{352800}
\glab{m83}{2977}{2388}{cN1}{0.99}{352800}
\glab{m84}{3333}{2388}{cN15}{1.31}{210585}
\glab{m85}{3437}{2388}{cN0}{0.51}{210585}
\glab{m86}{1050}{2511}{cN15}{1.36}{234893}
\glab{m87}{1233}{2511}{cN0}{0.76}{234883}
\glab{m88}{1857}{2511}{cN0}{0.58}{378625}
\glab{m89}{2161}{2511}{cN0}{0.62}{344160}
\glab{m90}{2957}{2511}{cN0}{0.70}{352800}
\glab{m91}{2841}{2511}{cN0}{0.38}{226030}
\glab{m92}{3311}{2511}{cN0}{0.82}{224071}
\glab{m93}{3494}{2511}{cN2}{1.73}{668946}
\glab{m94}{882}{2081}{cN15}{1.26}{234893}
\glab{m95}{2287}{2634}{cN0}{0.67}{492552}
\glab{m96}{2287}{2757}{cN0}{0.57}{492558}
\glab{m97}{3494}{2634}{cN0}{0.86}{179119}
\glab{m98}{3494}{2757}{cN0}{0.58}{179229}
\end{tikzpicture}
\end{document}
